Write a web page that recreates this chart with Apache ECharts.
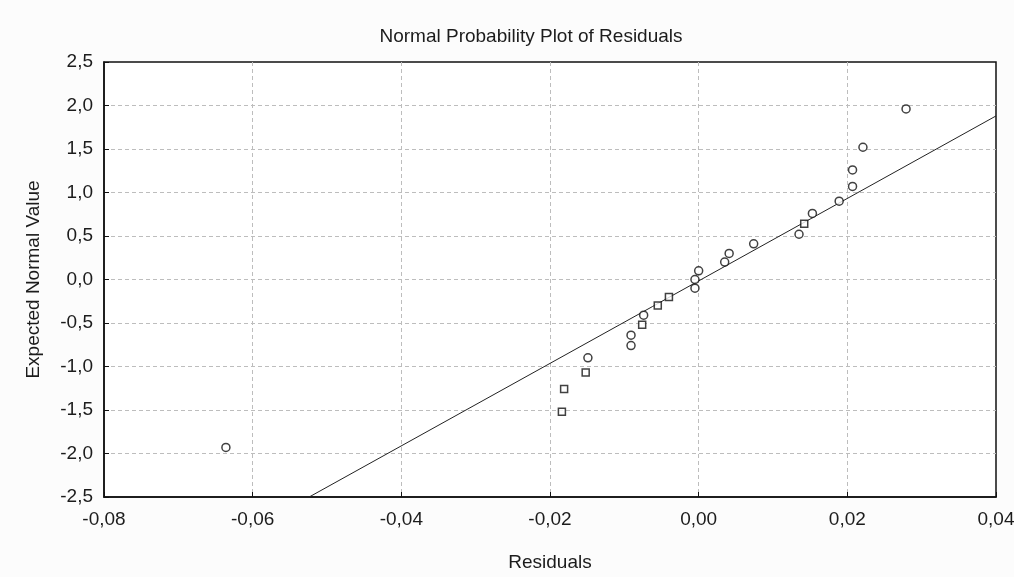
<!DOCTYPE html>
<html><head><meta charset="utf-8">
<script src="https://cdn.jsdelivr.net/npm/echarts@6/dist/echarts.min.js"></script>
<style>html,body{margin:0;padding:0;background:#fcfcfc}#c{width:1014px;height:577px}</style>
</head><body><div id="c"></div>
<script>
// Data
const residuals = [-0.0636,-0.0184,-0.0181,-0.0152,-0.0149,-0.0091,-0.0091,-0.0076,-0.0074,-0.0055,-0.0040,-0.0005,-0.0005,0.0000,0.0035,0.0041,0.0074,0.0135,0.0142,0.0153,0.0189,0.0207,0.0207,0.0221,0.0279];
const expected  = [-1.93,-1.52,-1.26,-1.07,-0.90,-0.76,-0.64,-0.52,-0.41,-0.30,-0.20,-0.10,0.00,0.10,0.20,0.30,0.41,0.52,0.64,0.76,0.90,1.07,1.26,1.52,1.96];
const markerShape = ['circle','rect','rect','rect','circle','circle','circle','rect','circle','rect','rect','circle','circle','circle','circle','circle','circle','circle','rect','circle','circle','circle','circle','circle','circle'];
const fitLineX = [-0.0524, 0.04];
const fitLineY = [-2.5, 1.88];
const xTicks = {min:-0.08, max:0.04, interval:0.02};
const yTicks = {min:-2.5, max:2.5, interval:0.5};

const chart = echarts.init(document.getElementById('c'), null, {renderer:'canvas'});
const pts = residuals.map((x,i)=>({value:[x, expected[i]], symbol: markerShape[i], symbolSize: markerShape[i]==='rect'?7:8}));
const font = 'Liberation Sans, Arial, sans-serif';
const txt = '#1c1c1c';
chart.setOption({
  backgroundColor:'#fcfcfc',
  animation:false,
  title:{text:'Normal Probability Plot of Residuals', left:526, textAlign:'center', top:22,
    textStyle:{fontFamily:font, fontSize:19, fontWeight:'normal', color:txt}},
  grid:{left:104, right:18, top:62, bottom:80, show:true, backgroundColor:'#fff', borderColor:'#111', borderWidth:1.5,
    containLabel:false, outerBoundsMode:'none'},
  xAxis:{type:'value', min:xTicks.min, max:xTicks.max, interval:xTicks.interval,
    name:'Residuals', nameLocation:'middle', nameGap:56,
    nameTextStyle:{fontFamily:font, fontSize:19, color:txt},
    axisLine:{show:true, onZero:false, lineStyle:{color:'#111', width:1.5}},
    axisTick:{show:true, inside:true, length:5, lineStyle:{color:'#111'}},
    axisLabel:{fontFamily:font, fontSize:19, color:txt, margin:13, formatter:v=>v.toFixed(2).replace('.',',').replace('-0,00','0,00')},
    splitLine:{show:true, showMinLine:false, showMaxLine:false, lineStyle:{color:'#bdbdbd', type:[4,3], width:1}}},
  yAxis:{type:'value', min:yTicks.min, max:yTicks.max, interval:yTicks.interval,
    name:'Expected Normal Value', nameLocation:'middle', nameGap:61, nameRotate:90,
    nameTextStyle:{fontFamily:font, fontSize:19, color:txt},
    axisLine:{show:true, onZero:false, lineStyle:{color:'#111', width:1.5}},
    axisTick:{show:true, inside:true, length:5, lineStyle:{color:'#111'}},
    axisLabel:{fontFamily:font, fontSize:19, color:txt, margin:11, formatter:v=>v.toFixed(1).replace('.',',')},
    splitLine:{show:true, showMinLine:false, showMaxLine:false, lineStyle:{color:'#bdbdbd', type:[4,3], width:1}}},
  series:[
    {type:'line', data:fitLineX.map((x,i)=>[x,fitLineY[i]]), symbol:'none', lineStyle:{color:'#222', width:1}, z:2},
    {type:'scatter', data:pts, itemStyle:{color:'#fff', borderColor:'#111', borderWidth:1.5}, z:3}
  ]
});
</script></body></html>
